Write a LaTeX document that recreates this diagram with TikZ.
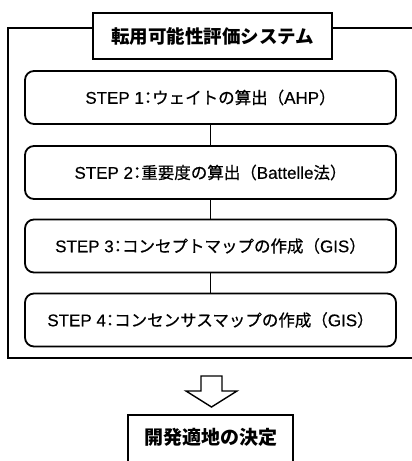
\documentclass[tikz,border=0pt]{standalone}
\usepackage{fontspec}
\setmainfont[FakeBold=0.4]{Liberation Sans}
\newfontfamily\jp[FakeBold=0.6]{Noto Sans CJK JP}
\newfontfamily\jph[RawFeature=+halt,FakeBold=0.6]{Noto Sans CJK JP}
\newfontfamily\jpb{Noto Sans CJK JP}
\newcommand{\J}[1]{{\fontsize{16.5}{19}\selectfont\jp #1}}
\newcommand{\Jc}{{\fontsize{16.5}{19}\selectfont\jph ：}}
\tikzset{
  line/.style={line width=1.8pt},
  stepbox/.style={draw, line width=1.8pt, rounded corners=9pt, minimum width=371pt, minimum height=53pt, inner sep=0pt, font=\fontsize{17}{19}\selectfont},
  titlebox/.style={draw, fill=white, line width=1.8pt, minimum width=239pt, minimum height=46pt, inner sep=0pt, font=\fontsize{18.5}{22}\selectfont\jpb\bfseries},
  resultbox/.style={draw, line width=1.8pt, minimum width=165pt, inner sep=0pt, text height=29pt, text depth=26pt, font=\fontsize{19}{22}\selectfont\jpb\bfseries},
}
\begin{document}
\begin{tikzpicture}[x=1pt,y=-1pt]
\useasboundingbox (0,0) rectangle (412,461);
\clip (0,0) rectangle (412,461);
% outer frame (right side runs off the picture)
\coordinate (ftr) at (430,28);
\coordinate (ftl) at (8,28);
\coordinate (fbl) at (8,358);
\coordinate (fbr) at (430,358);
\draw[line] (ftr) -- (ftl) -- (fbl) -- (fbr);
\node[titlebox] (title) at (212.5,36) {転用可能性評価システム};
\node[stepbox] (s1) at (210.5,97.5) {STEP 1\Jc\J{ウェイトの算出（}AHP\J{）}};
\node[stepbox] (s2) at (210.5,172.5) {STEP 2\Jc\J{重要度の算出（}Battelle\J{法）}};
\node[stepbox] (s3) at (210.5,246) {STEP 3\Jc\J{コンセプトマップの作成（}GIS\J{）}};
\node[stepbox] (s4) at (210.5,320) {STEP 4\Jc\J{コンセンサスマップの作成（}GIS\J{）}};
\draw[line] (s1.south) -- (s2.north);
\draw[line] (s2.south) -- (s3.north);
\draw[line] (s3.south) -- (s4.north);
% hollow down arrow
\draw[line width=1.4pt, line join=miter] (201,376) -- (222,376) -- (222,391) -- (237,391) -- (211.5,407) -- (186,391) -- (201,391) -- cycle;
\node[resultbox, anchor=base] (res) at (210.5,444) {開発適地の決定};
\end{tikzpicture}
\end{document}
